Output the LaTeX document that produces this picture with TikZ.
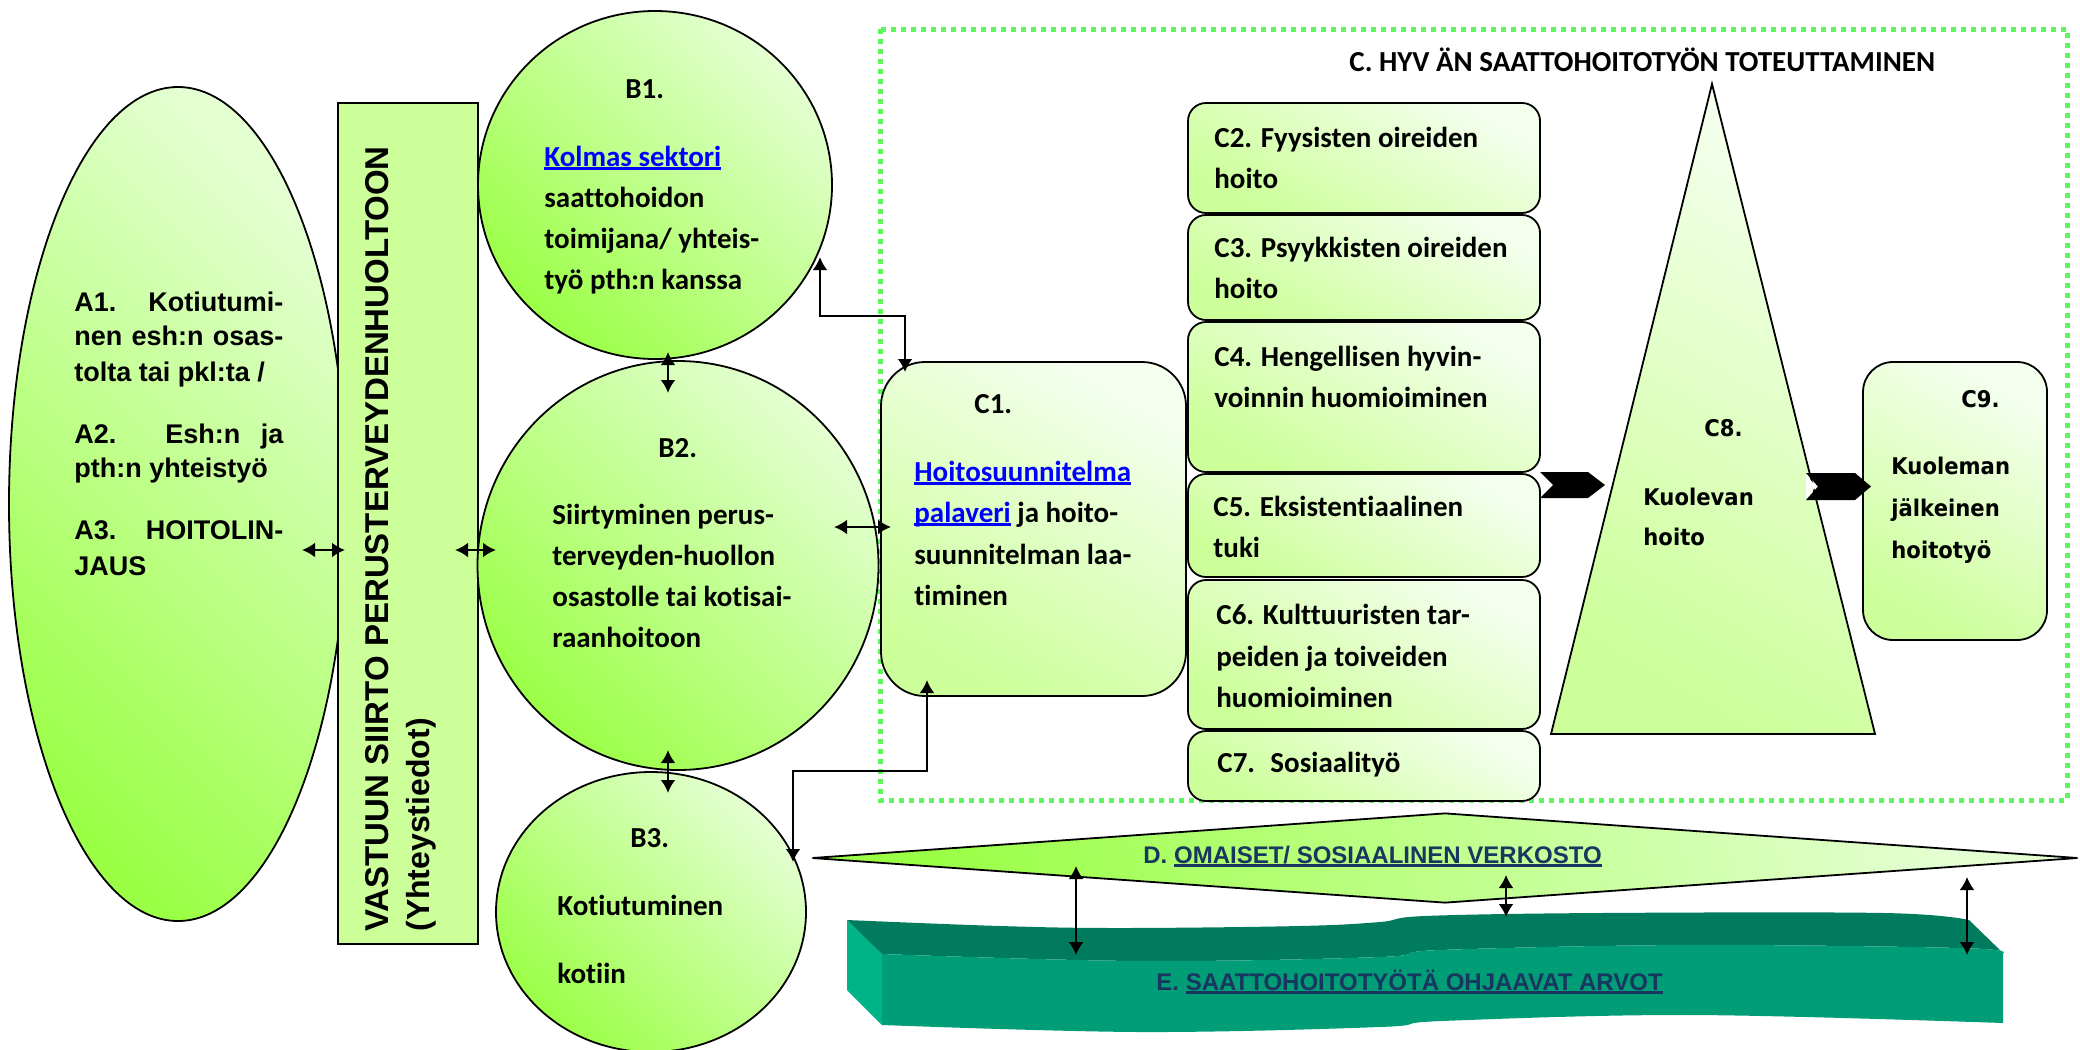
\documentclass[tikz,border=0pt]{standalone}
\usepackage{fontspec}
\usetikzlibrary{arrows.meta,shapes.geometric}
\newfontfamily\calfont[Ligatures=NoCommon]{Carlito}
\newfontfamily\arialfont{Liberation Sans}
\newfontfamily\verdfont[FakeStretch=0.92]{DejaVu Sans}
\definecolor{lgA}{RGB}{228,255,210}
\definecolor{gA}{RGB}{155,255,70}
\definecolor{lgC}{RGB}{244,255,238}
\definecolor{gC}{RGB}{204,255,153}
\definecolor{rectg}{RGB}{204,255,153}
\definecolor{dotg}{RGB}{95,245,95}
\definecolor{navy}{RGB}{24,54,96}
\definecolor{linkb}{RGB}{0,0,255}
\definecolor{eTop}{RGB}{0,123,93}
\definecolor{eFront}{RGB}{0,157,118}
\definecolor{eLeft}{RGB}{0,180,135}
\newlength\ulw
\newcommand\ulin[1]{\settowidth{\ulw}{#1}\rlap{\rule[-1.8pt]{\ulw}{1.1pt}}#1}
\begin{document}
\begin{tikzpicture}[x=0.5pt,y=-0.5pt,
  >={Latex[length=6.5pt,width=7.5pt]},
  outl/.style={draw=black,line width=0.9pt},
  greenell/.style={ellipse,outl,inner sep=0pt,top color=lgA,bottom color=gA,shading angle=-45},
  cbox/.style={rectangle,rounded corners=9pt,outl,inner sep=0pt,top color=lgC,bottom color=gC,shading angle=-30},
  dbl/.style={<->,line width=1.3pt},
  dblthin/.style={<->,line width=1pt},
  calT/.style={font=\calfont\bfseries\fontsize{14.5pt}{20.5pt}\selectfont,inner sep=0pt,anchor=base west},
  ariT/.style={font=\arialfont\bfseries\fontsize{13.5pt}{17.5pt}\selectfont,inner sep=0pt,anchor=base west},
  verT/.style={font=\verdfont\bfseries\fontsize{11.5pt}{21pt}\selectfont,inner sep=0pt,anchor=base west},
  navT/.style={font=\arialfont\bfseries\fontsize{12pt}{14pt}\selectfont,text=navy,inner sep=0pt,anchor=base west}]
\useasboundingbox (0,0) rectangle (2080,1049);
\fill[white] (0,0) rectangle (2080,1049);

% dotted frame C
\draw[draw=dotg,line width=2.5pt,dash pattern=on 2.5pt off 2.5pt] (880,29) rectangle (2067,800);

% A and R
\node[greenell,minimum width=169pt,minimum height=417pt] (A) at (178,504) {};
\node[rectangle,draw=black,line width=0.9pt,fill=rectg,minimum width=70pt,minimum height=420.5pt,inner sep=0pt] (R) at (408,523.5) {};

% B circles
\node[greenell,minimum width=177pt,minimum height=174pt] (B1) at (655,185) {};
\node[greenell,minimum width=200.5pt,minimum height=204.5pt] (B2) at (678,565.5) {};
\node[greenell,minimum width=155pt,minimum height=140pt] (B3) at (651,912) {};

% C boxes
\node[cbox,rounded corners=22pt,minimum width=152.5pt,minimum height=167pt] (C1) at (1033.5,529) {};
\node[cbox,minimum width=176pt,minimum height=55pt] (C2) at (1364,158) {};
\node[cbox,minimum width=176pt,minimum height=52.5pt] (C3) at (1364,267.5) {};
\node[cbox,minimum width=176pt,minimum height=75pt] (C4) at (1364,397) {};
\node[cbox,minimum width=176pt,minimum height=51.5pt] (C5) at (1364,525.5) {};
\node[cbox,minimum width=176pt,minimum height=74.5pt] (C6) at (1364,654.5) {};
\node[cbox,minimum width=176pt,minimum height=35pt] (C7) at (1364,766) {};
\draw[outl,top color=lgC,bottom color=gC,shading angle=-30] (1712,84) -- (1875,734) -- (1551,734) -- cycle;
\node[cbox,rounded corners=15pt,minimum width=92pt,minimum height=139pt] (C9) at (1955,501) {};

% chevrons
\fill[black] (1540,472) -- (1588,472) -- (1605,485) -- (1588,498) -- (1540,498) -- (1553,485) -- cycle;
\fill[black] (1806,473) -- (1855,473) -- (1871,486.5) -- (1855,500) -- (1806,500) -- (1818,486.5) -- cycle;
\fill[white] (1806,474.5) -- (1816,486.5) -- (1806,498.5) -- cycle;

% E ribbon
\fill[eLeft] (847,920) -- (882,954) -- (882,1025) -- (847,990) -- cycle;
\fill[eTop] plot[smooth,tension=0.6] coordinates {(847,920) (1000,926) (1120,928) (1300,926) (1380,922) (1425,916) (1600,913) (1884,913) (1969,920)} -- (2003,953) -- plot[smooth,tension=0.6] coordinates {(2003,953) (1960,948) (1690,945) (1440,950) (1380,957) (1140,961) (882,954)} -- cycle;
\fill[eFront] plot[smooth,tension=0.6] coordinates {(882,954) (1140,961) (1380,957) (1440,950) (1690,945) (1960,948) (2003,953)} -- (2003,1023) -- plot[smooth,tension=0.6] coordinates {(2003,1023) (1692,1015) (1442,1021) (1380,1027) (1140,1032) (882,1025)} -- cycle;

% D diamond
\node[diamond,draw=black,line width=0.9pt,inner sep=0pt,minimum width=633pt,minimum height=45pt,top color=lgA,bottom color=gA,shading angle=-70] (D) at (1445,858) {};

% texts A
\node[ariT] (a1) at (74,311) {\makebox[104.5pt][s]{A1. Kotiutumi-}};
\node[ariT] (a2) at (74,345) {\makebox[104.5pt][s]{nen esh:n osas-}};
\node[ariT] (a3) at (74,381) {tolta tai pkl:ta /};
\node[ariT] (a4) at (74,443) {\makebox[104.5pt][s]{A2. Esh:n ja}};
\node[ariT] (a5) at (74,477) {pth:n yhteistyö};
\node[ariT] (a6) at (74,539) {\makebox[104.5pt][s]{A3. HOITOLIN-}};
\node[ariT] (a7) at (74,575) {JAUS};

% texts R
\node[ariT,rotate=90,font=\arialfont\bfseries\fontsize{16.5pt}{20pt}\selectfont] (r1) at (388,932) {VASTUUN SIIRTO PERUSTERVEYDENHUOLTOON};
\node[ariT,rotate=90,font=\arialfont\bfseries\fontsize{16pt}{20pt}\selectfont] (r2) at (429,932) {(Yhteystiedot)};

% texts B
\node[calT] (b1t) at (625,98) {B1.};
\node[calT,text=linkb] (b1l) at (544,166) {\ulin{Kolmas sektori}};
\node[calT] (b1a) at (544,207) {saattohoidon};
\node[calT] (b1b) at (544,248) {toimijana/ yhteis-};
\node[calT] (b1c) at (544,289) {työ pth:n kanssa};
\node[calT] (b2t) at (658,457) {B2.};
\node[calT] (b2a) at (552,524) {Siirtyminen perus-};
\node[calT] (b2b) at (552,565) {terveyden-huollon};
\node[calT] (b2c) at (552,606) {osastolle tai kotisai-};
\node[calT] (b2d) at (552,647) {raanhoitoon};
\node[calT] (b3t) at (630,847) {B3.};
\node[calT] (b3a) at (557,915) {Kotiutuminen};
\node[calT] (b3b) at (557,983) {kotiin};

% texts C
\node[calT] (ctitle) at (1349,71) {C. HYV ÄN SAATTOHOITOTYÖN TOTEUTTAMINEN};
\node[calT] (c1t) at (974,413) {C1.};
\node[calT,text=linkb] (c1a) at (914,481) {\ulin{Hoitosuunnitelma}};
\node[calT] (c1b) at (914,522) {{\color{linkb}\ulin{palaveri}} ja hoito-};
\node[calT] (c1c) at (914,564) {suunnitelman laa-};
\node[calT] (c1d) at (914,605) {timinen};
\node[calT] (c2a) at (1214,147) {C2. Fyysisten oireiden};
\node[calT] (c2b) at (1214,188) {hoito};
\node[calT] (c3a) at (1214,257) {C3. Psyykkisten oireiden};
\node[calT] (c3b) at (1214,298) {hoito};
\node[calT] (c4a) at (1214,366) {C4. Hengellisen hyvin-};
\node[calT] (c4b) at (1214,407) {voinnin huomioiminen};
\node[calT] (c5a) at (1213,516) {C5. Eksistentiaalinen};
\node[calT] (c5b) at (1213,557) {tuki};
\node[calT] (c6a) at (1216,624) {C6. Kulttuuristen tar-};
\node[calT] (c6b) at (1216,666) {peiden ja toiveiden};
\node[calT] (c6c) at (1216,707) {huomioiminen};
\node[calT] (c7a) at (1217,772) {C7.~ Sosiaalityö};
\node[verT] (c8t) at (1704,436) {C8.};
\node[verT] (c8a) at (1643,505) {Kuolevan};
\node[verT] (c8b) at (1643,545) {hoito};
\node[verT] (c9t) at (1961,407) {C9.};
\node[verT] (c9a) at (1891,474) {Kuoleman};
\node[verT] (c9b) at (1891,516) {jälkeinen};
\node[verT] (c9c) at (1891,558) {hoitotyö};

% texts D, E
\node[navT] (dtext) at (1143,863) {D. \ulin{OMAISET/ SOSIAALINEN VERKOSTO}};
\node[navT] (etext) at (1156,990) {E. \ulin{SAATTOHOITOTYÖTÄ OHJAAVAT ARVOT}};

% connector end points
\coordinate (pa1) at (302,550); \coordinate (pa2) at (345,550);
\coordinate (pr1) at (455,550); \coordinate (pr2) at (496,550);
\coordinate (pb1) at (668,352); \coordinate (pb2) at (668,393);
\coordinate (pb3) at (668,750); \coordinate (pb4) at (668,793);
\coordinate (pc1) at (834,527); \coordinate (pc2) at (891,527);
\coordinate (e1s) at (820,257); \coordinate (e1a) at (820,316); \coordinate (e1b) at (905,316); \coordinate (e1e) at (905,372);
\coordinate (e2s) at (927,680); \coordinate (e2a) at (927,771); \coordinate (e2b) at (793,771); \coordinate (e2e) at (793,862);
\coordinate (de1) at (1076,866); \coordinate (de2) at (1076,955);
\coordinate (de3) at (1506,875); \coordinate (de4) at (1506,917);
\coordinate (de5) at (1967,877); \coordinate (de6) at (1967,955);

% connectors
\draw[dbl] (pa1) -- (pa2);
\draw[dbl] (pr1) -- (pr2);
\draw[dbl] (pb1) -- (pb2);
\draw[dbl] (pb3) -- (pb4);
\draw[dbl] (pc1) -- (pc2);
\draw[dbl] (e1s) -- (e1a) -- (e1b) -- (e1e);
\draw[dbl] (e2s) -- (e2a) -- (e2b) -- (e2e);
\draw[dblthin] (de1) -- (de2);
\draw[dblthin] (de3) -- (de4);
\draw[dblthin] (de5) -- (de6);
\end{tikzpicture}
\end{document}
